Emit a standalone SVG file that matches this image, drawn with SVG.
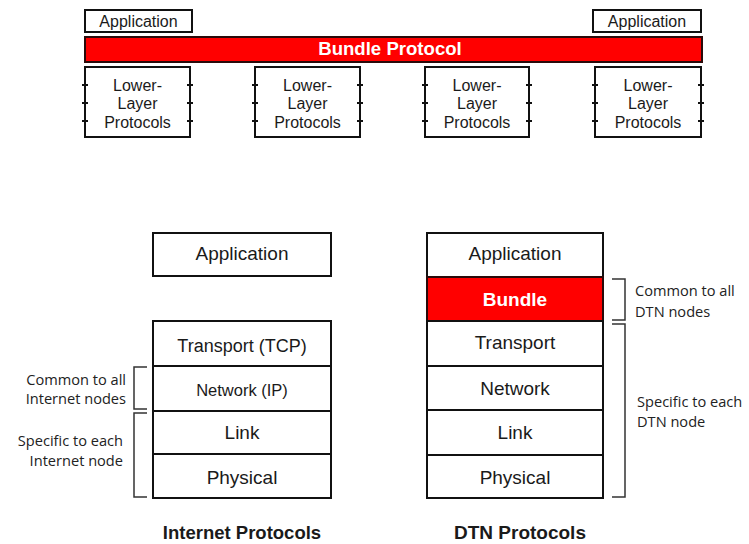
<svg xmlns="http://www.w3.org/2000/svg" width="749" height="544" viewBox="0 0 749 544">
  <style>
    .box { fill: #ffffff; stroke: #111111; stroke-width: 2; }
    .red { fill: #ff0000; stroke: #2a0a0a; stroke-width: 2; }
    .t { font-family: "Liberation Sans", Arial, sans-serif; fill: #1a1a1a; text-anchor: middle; }
    .top { font-size: 16px; }
    .layer { font-size: 19px; }
    .b { font-weight: bold; }
    .w { fill: #ffffff; }
    .side { font-family: "Open Sans", "Noto Sans", sans-serif; font-size: 14.6px; fill: #222222; }
    .tick { stroke: #111111; stroke-width: 2; }
    .brk { fill: none; stroke: #333333; stroke-width: 1.5; }
  </style>

  <!-- Upper panel: bundle protocol spanning lower-layer protocols -->
  <g id="app-left">
    <rect class="box" x="85" y="10" width="107" height="22"/>
    <text class="t top" x="138.5" y="27">Application</text>
  </g>
  <g id="app-right">
    <rect class="box" x="593" y="10" width="108" height="22"/>
    <text class="t top" x="647" y="27">Application</text>
  </g>
  <g id="bundle-protocol">
    <rect class="red" x="85" y="37" width="617" height="25"/>
    <text class="t b w" x="390" y="54.5" style="font-size:18.6px">Bundle Protocol</text>
  </g>

  <g id="lower-1">
    <rect class="box" x="85" y="67" width="105" height="70"/>
    <path class="tick" d="M82 85h6M82 103h6M82 121h6M187 85h6M187 103h6M187 121h6"/>
    <text class="t top" x="137.5" y="90.5">Lower-</text>
    <text class="t top" x="137.5" y="109">Layer</text>
    <text class="t top" x="137.5" y="127.5">Protocols</text>
  </g>
  <g id="lower-2">
    <rect class="box" x="255" y="67" width="105" height="70"/>
    <path class="tick" d="M252 85h6M252 103h6M252 121h6M357 85h6M357 103h6M357 121h6"/>
    <text class="t top" x="307.5" y="90.5">Lower-</text>
    <text class="t top" x="307.5" y="109">Layer</text>
    <text class="t top" x="307.5" y="127.5">Protocols</text>
  </g>
  <g id="lower-3">
    <rect class="box" x="425" y="67" width="104" height="70"/>
    <path class="tick" d="M422 85h6M422 103h6M422 121h6M526 85h6M526 103h6M526 121h6"/>
    <text class="t top" x="477" y="90.5">Lower-</text>
    <text class="t top" x="477" y="109">Layer</text>
    <text class="t top" x="477" y="127.5">Protocols</text>
  </g>
  <g id="lower-4">
    <rect class="box" x="595" y="67" width="106" height="70"/>
    <path class="tick" d="M592 85h6M592 103h6M592 121h6M698 85h6M698 103h6M698 121h6"/>
    <text class="t top" x="648" y="90.5">Lower-</text>
    <text class="t top" x="648" y="109">Layer</text>
    <text class="t top" x="648" y="127.5">Protocols</text>
  </g>

  <!-- Internet protocol stack -->
  <g id="inet-application">
    <rect class="box" x="153" y="233" width="178" height="43"/>
    <text class="t layer" x="242" y="260">Application</text>
  </g>
  <g id="inet-transport">
    <rect class="box" x="153" y="321" width="178" height="45"/>
    <text class="t layer" x="242" y="352" style="font-size:18px">Transport (TCP)</text>
  </g>
  <g id="inet-network">
    <rect class="box" x="153" y="366" width="178" height="45"/>
    <text class="t" x="242" y="396" style="font-size:16.5px">Network (IP)</text>
  </g>
  <g id="inet-link">
    <rect class="box" x="153" y="411" width="178" height="43"/>
    <text class="t layer" x="242" y="439">Link</text>
  </g>
  <g id="inet-physical">
    <rect class="box" x="153" y="454" width="178" height="44"/>
    <text class="t layer" x="242" y="484">Physical</text>
  </g>
  <text class="t b" x="242" y="539" style="font-size:18.5px">Internet Protocols</text>

  <!-- DTN protocol stack -->
  <g id="dtn-application">
    <rect class="box" x="427" y="233" width="176" height="44"/>
    <text class="t layer" x="515" y="260">Application</text>
  </g>
  <g id="dtn-bundle">
    <rect class="red" x="427" y="277" width="176" height="44"/>
    <text class="t layer b w" x="515" y="306">Bundle</text>
  </g>
  <g id="dtn-transport">
    <rect class="box" x="427" y="321" width="176" height="45"/>
    <text class="t layer" x="515" y="349">Transport</text>
  </g>
  <g id="dtn-network">
    <rect class="box" x="427" y="366" width="176" height="44"/>
    <text class="t layer" x="515" y="395">Network</text>
  </g>
  <g id="dtn-link">
    <rect class="box" x="427" y="410" width="176" height="45"/>
    <text class="t layer" x="515" y="439">Link</text>
  </g>
  <g id="dtn-physical">
    <rect class="box" x="427" y="455" width="176" height="43"/>
    <text class="t layer" x="515" y="484">Physical</text>
  </g>
  <text class="t b" x="520" y="539" style="font-size:19px">DTN Protocols</text>

  <!-- Scope brackets and their notes -->
  <g id="brackets">
    <path class="brk" d="M147 367H134V409H147"/>
    <path class="brk" d="M147 413H134V497H147"/>
    <path class="brk" d="M612 279H625V320H612"/>
    <path class="brk" d="M612 324H625V497H612"/>
  </g>
  <g id="notes">
    <text class="side" x="126" y="385" text-anchor="end">Common to all</text>
    <text class="side" x="126" y="404" text-anchor="end">Internet nodes</text>
    <text class="side" x="123" y="446" text-anchor="end">Specific to each</text>
    <text class="side" x="123" y="466" text-anchor="end">Internet node</text>
    <text class="side" x="635" y="296">Common to all</text>
    <text class="side" x="635" y="317">DTN nodes</text>
    <text class="side" x="637" y="407">Specific to each</text>
    <text class="side" x="637" y="427">DTN node</text>
  </g>
</svg>
